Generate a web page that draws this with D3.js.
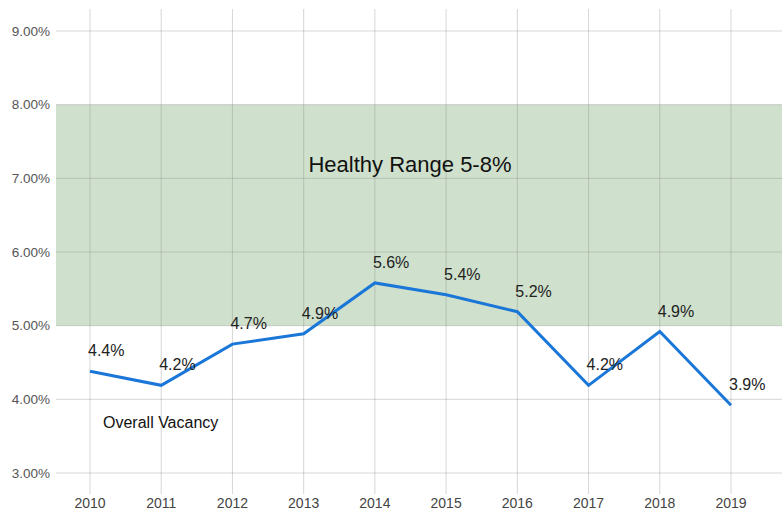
<!DOCTYPE html>
<html lang="en">
  <head>
    <meta charset="utf-8" />
    <script src="https://d3js.org/d3.v7.min.js"></script>
    <style>
      body {
        margin: 0;
        background-color: #fff;
      }
      svg text {
        font-family: "Liberation Sans", Arial, sans-serif;
      }
    </style>
  </head>
  <body>
    <div id="chart"></div>
    <script>
      const width = 782;
      const height = 515;

      const years = [2010, 2011, 2012, 2013, 2014, 2015, 2016, 2017, 2018, 2019];
      const vacancy = [4.38, 4.19, 4.75, 4.89, 5.58, 5.42, 5.19, 4.19, 4.92, 3.92];
      const vacancyLabels = ["4.4%", "4.2%", "4.7%", "4.9%", "5.6%", "5.4%", "5.2%", "4.2%", "4.9%", "3.9%"];
      const yTicks = [3, 4, 5, 6, 7, 8, 9];
      const healthyRange = [5, 8];

      const svg = d3
        .select("#chart")
        .append("svg")
        .attr("width", width)
        .attr("height", height);

      const x = d3.scaleLinear().domain([2010, 2019]).range([90, 731]);
      const y = d3.scaleLinear().domain([3, 9]).range([473, 31]);

      const left = 56;
      const right = width;

      // bande verte
      svg
        .append("rect")
        .attr("x", left)
        .attr("y", y(healthyRange[1]))
        .attr("width", right - left)
        .attr("height", y(healthyRange[0]) - y(healthyRange[1]))
        .attr("fill", "#cfe0cc");

      // grille
      svg
        .append("g")
        .selectAll("line")
        .data(yTicks)
        .join("line")
        .attr("x1", left)
        .attr("x2", right)
        .attr("y1", (d) => y(d))
        .attr("y2", (d) => y(d))
        .attr("stroke", "#8a8a8a")
        .attr("stroke-opacity", 0.35)
        .attr("stroke-width", 1);

      svg
        .append("g")
        .selectAll("line")
        .data(years)
        .join("line")
        .attr("x1", (d) => x(d))
        .attr("x2", (d) => x(d))
        .attr("y1", 9)
        .attr("y2", 494)
        .attr("stroke", "#8a8a8a")
        .attr("stroke-opacity", 0.35)
        .attr("stroke-width", 1);

      // axes
      svg
        .append("g")
        .selectAll("text")
        .data(yTicks)
        .join("text")
        .attr("x", 50)
        .attr("y", (d) => y(d))
        .attr("dy", "0.35em")
        .attr("text-anchor", "end")
        .attr("font-size", 13.5)
        .attr("fill", "#555")
        .text((d) => d.toFixed(2) + "%");

      svg
        .append("g")
        .selectAll("text")
        .data(years)
        .join("text")
        .attr("x", (d) => x(d))
        .attr("y", 508)
        .attr("text-anchor", "middle")
        .attr("font-size", 14)
        .attr("fill", "#444")
        .text((d) => d);

      const data = years.map((yr, i) => ({ year: yr, value: vacancy[i], label: vacancyLabels[i] }));

      const line = d3
        .line()
        .x((d) => x(d.year))
        .y((d) => y(d.value));

      svg
        .append("path")
        .datum(data)
        .attr("d", line)
        .attr("fill", "none")
        .attr("stroke", "#1a77d8")
        .attr("stroke-width", 3)
        .attr("stroke-linejoin", "miter");

      svg
        .append("g")
        .selectAll("text")
        .data(data)
        .join("text")
        .attr("x", (d) => x(d.year) - 2)
        .attr("y", (d) => y(d.value) - 15)
        .attr("font-size", 16)
        .attr("fill", "#222")
        .text((d) => d.label);

      svg
        .append("text")
        .attr("x", 410)
        .attr("y", y(7) - 6)
        .attr("text-anchor", "middle")
        .attr("font-size", 22)
        .attr("fill", "#111")
        .text("Healthy Range 5-8%");

      svg
        .append("text")
        .attr("x", 103)
        .attr("y", 428)
        .attr("font-size", 16)
        .attr("fill", "#111")
        .text("Overall Vacancy");
    </script>
  </body>
</html>
